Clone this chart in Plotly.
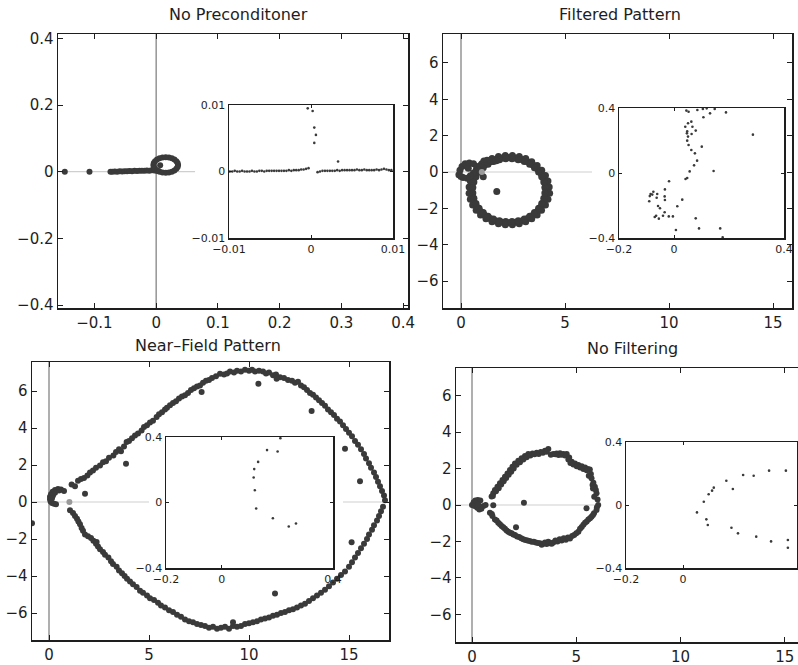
import plotly.graph_objects as go

# ---------------- data ----------------
# Panel 1: No Preconditioner (main)
p1_x = [-0.148, -0.108, -0.074, -0.071, -0.067, -0.063, -0.059, -0.055, -0.051, -0.047, -0.043, -0.039,
        -0.035, -0.031, -0.027, -0.023, -0.019, -0.015, -0.011, -0.007, -0.003, 0.001, 0.004,
        0.0355, 0.0348, 0.0328, 0.0296, 0.0255, 0.0207, 0.0155, 0.0103, 0.0055, 0.0014, -0.0018, -0.0038,
        -0.0045, -0.0038, -0.0018, 0.0014, 0.0055, 0.0103, 0.0155, 0.0207, 0.0255, 0.0296, 0.0328, 0.0348,
        0.0065]
p1_y = [0.0, 0.0, 0.0, 0.0, 0.0005, 0.0, 0.001, 0.0005, 0.0015, 0.001, 0.002, 0.0015,
        0.0025, 0.002, 0.003, 0.0025, 0.003, 0.0035, 0.003, 0.004, 0.0035, 0.003, 0.002,
        0.020, 0.026, 0.0315, 0.0363, 0.0399, 0.0422, 0.043, 0.0422, 0.0399, 0.0363, 0.0315, 0.026,
        0.020, 0.014, 0.0085, 0.0037, 0.0001, -0.0022, -0.003, -0.0022, 0.0001, 0.0037, 0.0085, 0.014,
        0.019]
# Panel 1 inset
p1i_x = [-0.0099, -0.0096, -0.0093, -0.0090, -0.0087, -0.0084, -0.0081, -0.0078, -0.0075, -0.0072, -0.0069,
         -0.0066, -0.0063, -0.0060, -0.0057, -0.0054, -0.0051, -0.0048, -0.0045, -0.0042, -0.0039, -0.0036,
         -0.0033, -0.0030, -0.0027, -0.0024, -0.0021, -0.0018, -0.0015, -0.0012, -0.0009, -0.0006,
         -0.0003, -0.0004, 0.0002, 0.0004, 0.0006, 0.0004, 0.0033,
         0.0008, 0.0011, 0.0014, 0.0017, 0.0020, 0.0023, 0.0026, 0.0029, 0.0032, 0.0035, 0.0038, 0.0041,
         0.0044, 0.0047, 0.0050, 0.0053, 0.0056, 0.0059, 0.0062, 0.0065, 0.0068, 0.0071, 0.0074, 0.0077,
         0.0080, 0.0083, 0.0086, 0.0089, 0.0092, 0.0095, 0.0098]
p1i_y = [0.0, 0.0, 0.0001, 0.0, 0.0, 0.0001, 0.0, 0.0, 0.0, 0.0001, 0.0,
         0.0, 0.0001, 0.0001, 0.0, 0.0001, 0.0001, 0.0001, 0.0001, 0.0001, 0.0001, 0.0001,
         0.0001, 0.0001, 0.0002, 0.0001, 0.0002, 0.0002, 0.0002, 0.0003, 0.0003, 0.0004,
         0.0005, 0.0095, 0.0091, 0.0066, 0.0055, 0.0043, 0.0015,
         -0.0001, 0.0, 0.0001, 0.0001, 0.0001, 0.0001, 0.0001, 0.0001, 0.0002, 0.0001, 0.0002, 0.0002,
         0.0002, 0.0002, 0.0002, 0.0002, 0.0003, 0.0002, 0.0002, 0.0003, 0.0002, 0.0002, 0.0002, 0.0002,
         0.0003, 0.0002, 0.0003, 0.0004, 0.0003, 0.0002, 0.0002]

# Panel 2: Filtered Pattern (main)
p2_x = [4.10, 4.07, 3.99, 3.86, 3.68, 3.46, 3.20, 2.92, 2.61, 2.30, 1.99, 1.68, 1.40, 1.14, 0.92, 0.74, 0.61, 0.53,
        0.50, 0.53, 0.61, 0.74, 0.92, 1.14, 1.40, 1.68, 1.99, 2.30, 2.61, 2.92, 3.20, 3.46, 3.68, 3.86, 3.99, 4.07,
        4.24, 4.18, 4.06, 3.88, 3.66, 3.40, 3.11, 2.80, 2.47, 2.13, 1.80, 1.49, 1.20, 0.94, 0.73, 0.56, 0.45, 0.39,
        0.39, 0.45, 0.56, 0.73, 0.94, 1.20, 1.49, 1.80, 2.13, 2.47, 2.80, 3.11, 3.40, 3.66, 3.87, 4.06, 4.18, 4.26,
        4.03, 3.98, 3.88, 3.73, 3.53, 3.30, 3.04, 2.75, 2.45, 2.15, 1.85, 1.56, 1.30, 1.07, 0.87, 0.72, 0.62, 0.57,
        0.57, 0.62, 0.72, 0.87, 1.07, 1.30, 1.56, 1.85, 2.15, 2.45, 2.75, 3.04, 3.30, 3.53, 3.73, 3.88, 3.98, 4.03,
        -0.10, -0.05, 0.05, 0.20, 0.40, 0.60, 0.75, 0.80, 0.60, 0.45, 0.30, 0.10, 0.00, 0.35, 0.90,
        1.00, 1.10, 1.25, 1.40, 1.55, 1.70, 1.07, 1.72]
p2_y = [-1.00, -0.69, -0.38, -0.10, 0.16, 0.38, 0.56, 0.69, 0.77, 0.80, 0.77, 0.69, 0.56, 0.38, 0.16, -0.10, -0.38, -0.69,
        -1.00, -1.31, -1.62, -1.90, -2.16, -2.38, -2.56, -2.69, -2.77, -2.80, -2.77, -2.69, -2.56, -2.38, -2.16, -1.90, -1.62, -1.31,
        -0.83, -0.50, -0.19, 0.10, 0.36, 0.57, 0.74, 0.85, 0.91, 0.91, 0.85, 0.74, 0.57, 0.36, 0.10, -0.19, -0.50, -0.83,
        -1.17, -1.50, -1.81, -2.10, -2.36, -2.57, -2.74, -2.85, -2.91, -2.91, -2.85, -2.74, -2.57, -2.36, -2.10, -1.81, -1.50, -1.17,
        -0.85, -0.55, -0.26, 0.00, 0.23, 0.43, 0.58, 0.68, 0.73, 0.73, 0.68, 0.58, 0.43, 0.23, 0.00, -0.26, -0.55, -0.85,
        -1.15, -1.45, -1.74, -2.00, -2.23, -2.43, -2.58, -2.68, -2.73, -2.73, -2.68, -2.58, -2.43, -2.23, -2.00, -1.74, -1.45, -1.15,
        -0.15, 0.10, 0.30, 0.45, 0.50, 0.45, 0.30, 0.10, -0.05, -0.20, -0.35, -0.30, -0.25, 0.20, 0.05,
        0.45, 0.60, 0.65, 0.62, 0.60, 0.62, -0.26, -1.08]
p2_grey_x = [1.0]
p2_grey_y = [0.0]
# Panel 2 inset
p2i_x = [0.045, 0.053, 0.085, 0.105, 0.119, 0.131, 0.148, 0.107, 0.189, 0.063, 0.051, 0.041, 0.067, 0.079,
         0.048, 0.047, 0.064, 0.051, 0.048, 0.287, 0.101, 0.053, 0.063, 0.076, 0.084, 0.073, 0.144, 0.057,
         0.048, 0.042, -0.018, -0.033, -0.075, -0.085, -0.079, -0.088, -0.061, -0.063, -0.090, -0.034,
         -0.033, 0.030, -0.058, -0.051, -0.034, -0.065, -0.070, -0.055, -0.040, -0.019, -0.004, 0.012,
         0.079, 0.007, 0.091, 0.168, 0.177]
p2i_y = [0.384, 0.377, 0.388, 0.394, 0.398, 0.367, 0.394, 0.343, 0.373, 0.316, 0.306, 0.285, 0.285, 0.261,
         0.256, 0.244, 0.240, 0.224, 0.199, 0.236, 0.162, 0.172, 0.142, 0.121, 0.076, 0.047, 0.012, 0.010,
         -0.031, -0.037, -0.051, -0.101, -0.115, -0.129, -0.133, -0.142, -0.129, -0.152, -0.174, -0.144,
         -0.166, -0.164, -0.203, -0.217, -0.242, -0.263, -0.271, -0.281, -0.263, -0.267, -0.267, -0.205,
         -0.279, -0.351, -0.341, -0.341, -0.396]

# Panel 3: Near-Field Pattern (main)
p3_x = [1.13, 1.30, 1.45, 1.60, 1.75, 1.92, 2.05, 2.20, 2.35, 2.55, 2.70, 2.85, 3.00, 3.22, 3.35, 3.50, 3.60, 3.75,
        3.88, 4.00, 4.15, 4.30, 4.45, 4.63, 4.75, 4.90, 5.05, 5.20, 5.38, 5.50, 5.65, 5.80, 5.90, 6.05, 6.20, 6.35,
        6.50, 6.65, 6.80, 6.95, 7.10, 7.25, 7.40, 7.55, 7.70, 7.85, 8.00, 8.15, 8.35, 8.55, 8.75, 8.90, 9.05, 9.25,
        9.40, 9.60, 9.80, 10.00, 10.15, 10.30, 10.50, 10.70, 10.85, 11.00, 11.20, 11.35, 11.55, 11.75, 11.95, 12.15,
        12.30, 12.45, 12.60, 12.75, 12.90, 13.05, 13.20, 13.35, 13.50, 13.65, 13.80, 13.95, 14.10, 14.25, 14.40,
        14.55, 14.70, 14.85, 15.00, 15.15, 15.30, 15.45, 15.60, 15.75, 15.85, 16.00, 16.10, 16.25, 16.35, 16.45,
        16.55, 16.65, 16.75, 16.80,
        1.05, 1.20, 1.30, 1.40, 1.47, 1.55, 1.63, 1.70, 1.80, 1.95, 2.10, 2.22, 2.35, 2.45, 2.55, 2.70, 2.80, 2.97,
        3.10, 3.20, 3.38, 3.50, 3.65, 3.78, 3.90, 4.05, 4.20, 4.38, 4.55, 4.70, 4.90, 5.05, 5.25, 5.45, 5.60, 5.80,
        6.00, 6.20, 6.40, 6.60, 6.80, 7.00, 7.20, 7.40, 7.60, 7.80, 8.00, 8.20, 8.40, 8.60, 8.80, 9.00, 9.20, 9.40,
        9.60, 9.80, 10.00, 10.20, 10.40, 10.60, 10.80, 11.00, 11.20, 11.40, 11.60, 11.80, 12.00, 12.20, 12.40, 12.60,
        12.80, 13.00, 13.20, 13.40, 13.60, 13.80, 14.00, 14.20, 14.40, 14.60, 14.80, 15.00, 15.15, 15.30, 15.45,
        15.60, 15.75, 15.90, 16.00, 16.15, 16.25, 16.40, 16.50, 16.60, 16.70,
        14.80, 15.55, 15.13, 11.30, 13.13, 11.38, 3.85, 1.80, 2.38, 7.63, 10.47, 9.2, -0.85,
        0.75, 0.60, 0.45, 0.30, 0.18, 0.10, 0.05, 0.05, 0.08, 0.15, 0.25, 0.35, 0.20, 0.30, 0.15, 0.50]
p3_y = [0.95, 0.85, 1.15, 1.25, 1.30, 1.44, 1.60, 1.70, 1.85, 1.98, 2.15, 2.20, 2.40, 2.52, 2.70, 2.85, 2.75, 3.00,
        3.24, 3.30, 3.45, 3.60, 3.70, 3.87, 4.05, 4.15, 4.30, 4.40, 4.60, 4.75, 4.85, 5.00, 5.10, 5.23, 5.35, 5.45,
        5.60, 5.70, 5.77, 5.90, 6.05, 6.15, 6.25, 6.30, 6.45, 6.55, 6.60, 6.70, 6.80, 6.94, 6.90, 6.95, 7.05, 7.00,
        7.10, 7.05, 7.15, 7.10, 7.15, 7.05, 7.10, 7.05, 6.95, 7.00, 6.85, 6.90, 6.75, 6.70, 6.60, 6.55,
        6.45, 6.50, 6.30, 6.20, 6.05, 5.90, 5.80, 5.65, 5.50, 5.35, 5.20, 5.00, 4.85, 4.70, 4.50,
        4.35, 4.15, 3.95, 3.75, 3.55, 3.30, 3.10, 2.85, 2.60, 2.35, 2.10, 1.85, 1.60, 1.35, 1.10,
        0.85, 0.60, 0.35, 0.10,
        -0.45, -0.60, -0.75, -0.90, -1.05, -1.20, -1.40, -1.55, -1.75, -1.85, -1.95, -2.10, -2.25, -2.40, -2.55, -2.70, -2.85, -3.00,
        -3.20, -3.35, -3.50, -3.70, -3.85, -4.00, -4.15, -4.30, -4.45, -4.60, -4.80, -4.90, -5.05, -5.20, -5.30, -5.45, -5.60, -5.70,
        -5.85, -5.95, -6.10, -6.20, -6.35, -6.45, -6.50, -6.60, -6.65, -6.70, -6.80, -6.75, -6.85, -6.80, -6.75, -6.85, -6.70, -6.75,
        -6.70, -6.60, -6.55, -6.50, -6.45, -6.35, -6.30, -6.25, -6.15, -6.10, -6.00, -5.95, -5.85, -5.80, -5.70, -5.60,
        -5.50, -5.35, -5.20, -5.05, -4.90, -4.75, -4.55, -4.35, -4.15, -3.95, -3.75, -3.50, -3.25, -3.00, -2.75,
        -2.50, -2.25, -2.00, -1.75, -1.50, -1.25, -1.00, -0.75, -0.50, -0.25,
        2.88, 1.12, -2.18, -4.95, 4.92, 6.67, 2.07, 0.45, -2.16, 5.95, 6.40, -6.5, -1.15,
        0.60, 0.68, 0.70, 0.65, 0.55, 0.42, 0.28, 0.15, 0.03, -0.05, -0.10, -0.12, 0.35, 0.50, 0.20, 0.62]
p3_grey_x = [1.02]
p3_grey_y = [0.0]
# Panel 3 inset
p3i_x = [0.211, 0.163, 0.201, 0.131, 0.117, 0.115, 0.119, 0.124, 0.184, 0.241, 0.267]
p3i_y = [0.393, 0.320, 0.311, 0.248, 0.204, 0.153, 0.075, -0.037, -0.096, -0.147, -0.128]

# Panel 4: No Filtering (main)
p4_x = [0.94, 1.02, 1.10, 1.22, 1.34, 1.46, 1.58, 1.70, 1.82, 1.94, 2.06, 2.22, 2.38, 2.54, 2.70, 2.90, 3.10,
        3.30, 3.50, 3.66, 3.90, 4.06, 4.22, 4.38, 4.54, 4.66, 4.78, 4.94, 5.10, 5.26, 5.42, 5.55, 5.65, 5.70,
        5.73, 5.82, 5.89, 5.94, 5.97, 6.02, 6.05, 5.99,
        1.00, 1.15, 1.28, 1.40, 1.52, 1.64, 1.76, 1.88, 2.00, 2.14, 2.30, 2.46, 2.62, 2.80, 3.00, 3.20, 3.40, 3.58,
        3.78, 4.00, 4.15, 4.30, 4.46, 4.62, 4.72, 4.86, 5.02, 5.18, 5.34, 5.50, 5.60, 5.78, 5.86, 5.80,
        0.86, 0.98, 1.10, 1.26, 1.42, 1.58, 1.74, 1.90, 2.06, 2.26, 2.46, 2.66, 2.86, 3.06, 3.26, 3.42, 3.58, 3.74,
        3.90, 4.10, 4.30, 4.50, 4.70, 4.90, 5.10, 5.26, 5.42, 5.58, 5.73, 5.85, 5.97,
        0.95, 1.18, 1.34, 1.50, 1.66, 1.82, 1.98, 2.16, 2.36, 2.56, 2.76, 2.96, 3.16, 3.34, 3.50, 3.66, 3.82, 4.00,
        4.20, 4.40, 4.60, 4.80, 5.00, 5.18, 5.34, 5.50, 5.66, 5.80,
        2.49, 2.11, 5.49,
        0.00, 0.08, 0.16, 0.28, 0.40, 0.20, 0.12, 0.25, 0.35, 0.45, 0.55, 0.65, 0.30, 1.02]
p4_y = [0.46, 0.64, 0.82, 1.00, 1.19, 1.37, 1.55, 1.73, 1.92, 2.10, 2.28, 2.42, 2.56, 2.68, 2.79, 2.82, 2.87,
        2.90, 2.98, 3.07, 2.79, 2.82, 2.83, 2.80, 2.79, 2.60, 2.37, 2.28, 2.19, 2.12, 2.06, 1.98, 1.95, 1.70,
        1.46, 1.22, 1.00, 0.82, 0.64, 0.30, 0.00, -0.12,
        0.50, 0.75, 0.92, 1.12, 1.30, 1.48, 1.66, 1.82, 2.00, 2.20, 2.35, 2.50, 2.62, 2.72, 2.78, 2.80, 2.86, 2.92,
        2.75, 2.78, 2.74, 2.76, 2.72, 2.50, 2.30, 2.22, 2.12, 2.05, 1.98, 1.90, 1.60, 1.10, 0.45, 0.90,
        -0.42, -0.60, -0.79, -0.97, -1.15, -1.30, -1.46, -1.55, -1.64, -1.76, -1.88, -1.95, -2.01, -2.06, -2.10, -2.12, -2.14, -2.10,
        -2.06, -2.00, -1.95, -1.90, -1.83, -1.65, -1.46, -1.20, -0.97, -0.80, -0.64, -0.45, -0.27,
        -0.50, -0.85, -1.05, -1.22, -1.40, -1.52, -1.62, -1.72, -1.82, -1.92, -1.98, -2.02, -2.08, -2.18, -2.05, -2.02, -2.12, -1.95,
        -1.88, -1.82, -1.78, -1.70, -1.55, -1.30, -1.08, -0.90, -0.72, -0.55,
        0.13, -1.22, -0.18,
        0.00, 0.15, 0.25, 0.28, 0.25, 0.10, -0.05, -0.15, -0.25, -0.20, -0.05, 0.00, 0.02, -0.02]
# Panel 4 inset
p4i_x = [0.049, 0.073, 0.090, 0.102, 0.108, 0.152, 0.175, 0.211, 0.248, 0.302, 0.361, 0.082, 0.087, 0.170,
         0.193, 0.257, 0.309, 0.368, 0.368]
p4i_y = [-0.047, 0.021, 0.068, 0.091, 0.110, 0.154, 0.102, 0.190, 0.186, 0.218, 0.218, -0.091, -0.127, -0.144,
         -0.180, -0.201, -0.231, -0.222, -0.271]

# tick definitions
p1_xticks = [-0.1, 0, 0.1, 0.2, 0.3, 0.4]
p1_xticktext = ["\u22120.1", "0", "0.1", "0.2", "0.3", "0.4"]
p1_yticks = [-0.4, -0.2, 0, 0.2, 0.4]
p1_yticktext = ["\u22120.4", "\u22120.2", "0", "0.2", "0.4"]
p1i_ticks = [-0.01, 0, 0.01]
p1i_ticktext = ["\u22120.01", "0", "0.01"]
big_xticks = [0, 5, 10, 15]
big_yticks = [-6, -4, -2, 0, 2, 4, 6]
big_yticktext = ["\u22126", "\u22124", "\u22122", "0", "2", "4", "6"]
in_xticks = [-0.2, 0, 0.4]
in_xticktext = ["\u22120.2", "0", "0.4"]
in_yticks = [-0.4, 0, 0.4]
in_yticktext = ["\u22120.4", "0", "0.4"]

titles = ["No Preconditoner", "Filtered Pattern", "Near\u2013Field Pattern", "No Filtering"]

# ---------------- figure ----------------
W, H = 798, 665
DOT = "#3a3a3a"
FONT = "DejaVu Sans"
AX = "#1e1e1e"

def px_dom_x(a, b):
    return [max(0.0, a / W), min(1.0, b / W)]

def px_dom_y(top, bottom):
    return [max(0.0, 1 - bottom / H), min(1.0, 1 - top / H)]

fig = go.Figure()

def add_pts(x, y, xa, ya, size, color=DOT):
    fig.add_trace(go.Scatter(x=x, y=y, mode="markers", xaxis=xa, yaxis=ya,
                             marker=dict(size=size, color=color, line=dict(width=0)),
                             showlegend=False, hoverinfo="skip"))

add_pts(p1_x, p1_y, "x", "y", 6)
add_pts(p1i_x, p1i_y, "x2", "y2", 2.6)
add_pts(p2_x, p2_y, "x3", "y3", 7)
add_pts(p2_grey_x, p2_grey_y, "x3", "y3", 6, "#9a9a9a")
add_pts(p2i_x, p2i_y, "x4", "y4", 2.6)
add_pts(p3_x, p3_y, "x5", "y5", 6)
add_pts(p3_grey_x, p3_grey_y, "x5", "y5", 6, "#9a9a9a")
add_pts(p3i_x, p3i_y, "x6", "y6", 2.6)
add_pts(p4_x, p4_y, "x7", "y7", 6)
add_pts(p4i_x, p4i_y, "x8", "y8", 2.6)

def axis(dom, rng, tv, tt, anchor, fsize, ticklen, mirror="ticks", lw=1.5):
    return dict(domain=dom, range=rng, tickvals=tv, ticktext=tt, anchor=anchor,
                showline=True, linecolor=AX, linewidth=lw, mirror=mirror,
                ticks="inside", ticklen=ticklen, tickwidth=1, tickcolor=AX,
                showgrid=False, zeroline=False, automargin=False, fixedrange=True,
                tickfont=dict(family=FONT, size=fsize, color="#1e1e1e"))

# main panels (window pixel boxes: left, right, top, bottom)
P1 = (58, 408, 34, 308, [-0.159, 0.408], [-0.409, 0.413])
P2 = (443, 792, 34, 308, [-0.865, 15.91], [-7.485, 7.595])
P3 = (32, 389, 362, 640, [-0.85, 17.0], [-7.46, 7.57])
P4 = (456, 798, 368, 642, [-0.767, 15.63], [-7.51, 7.51])
# insets
I1 = (229, 393, 105, 238, [-0.01, 0.01], [-0.01, 0.01])
I2 = (619, 784, 108, 238, [-0.2, 0.4], [-0.4, 0.4])
I3 = (166, 333, 437, 568, [-0.2, 0.4], [-0.4, 0.4])
I4 = (626, 797, 442, 568, [-0.2, 0.4], [-0.4, 0.4])

lay = {}
mains = [(P1, p1_xticks, p1_xticktext, p1_yticks, p1_yticktext),
         (P2, big_xticks, None, big_yticks, big_yticktext),
         (P3, big_xticks, None, big_yticks, big_yticktext),
         (P4, big_xticks, None, big_yticks, big_yticktext)]
insets = [(I1, p1i_ticks, p1i_ticktext, p1i_ticks, p1i_ticktext),
          (I2, in_xticks, in_xticktext, in_yticks, in_yticktext),
          (I3, in_xticks, in_xticktext, in_yticks, in_yticktext),
          (I4, in_xticks, in_xticktext, in_yticks, in_yticktext)]

for i in range(4):
    P, xtv, xtt, ytv, ytt = mains[i]
    I, ixtv, ixtt, iytv, iytt = insets[i]
    n_main = 2 * i + 1
    n_in = 2 * i + 2
    sx = "" if n_main == 1 else str(n_main)
    xt = xtt if xtt is not None else [str(v) for v in xtv]
    lay["xaxis" + sx] = axis(px_dom_x(P[0], P[1]), P[4], xtv, xt, "y" + sx, 15, 5)
    ymirror = False if i == 3 else "ticks"
    lay["yaxis" + sx] = axis(px_dom_y(P[2], P[3]), P[5], ytv, ytt, "x" + sx, 15, 5, mirror=ymirror)
    si = str(n_in)
    lay["xaxis" + si] = axis(px_dom_x(I[0], I[1]), I[4], ixtv, ixtt, "y" + si, 11, 3)
    lay["yaxis" + si] = axis(px_dom_y(I[2], I[3]), I[5], iytv, iytt, "x" + si, 11, 3)

shapes = []
LIGHT = "#cfcfcf"
MID = "#7a7a7a"
# horizontal zero-reference segments of the main panels (hidden behind each inset)
zero_segments = [("x", "y", P1[4][0], 0.063), ("x3", "y3", P2[4][0], 6.3),
                 ("x5", "y5", P3[4][0], 5.0), ("x5", "y5", 14.7, P3[4][1]),
                 ("x7", "y7", P4[4][0], 6.14)]
for xa, ya, a, b in zero_segments:
    shapes.append(dict(type="line", xref=xa, yref=ya, x0=a, x1=b, y0=0, y1=0,
                       line=dict(color=LIGHT, width=1.2), layer="below"))
for n in range(1, 9):
    s = "" if n == 1 else str(n)
    shapes.append(dict(type="line", xref="x" + s, yref="y" + s + " domain", x0=0, x1=0, y0=0, y1=1,
                       line=dict(color=MID, width=1.2), layer="below"))
    if n % 2 == 0:
        shapes.append(dict(type="line", xref="x" + s + " domain", yref="y" + s, x0=0, x1=1, y0=0, y1=0,
                           line=dict(color=LIGHT, width=1.2), layer="below"))

title_pos = [(238, 15), (620, 15), (208, 345), (632, 348)]
annotations = []
for t, (tx, ty) in zip(titles, title_pos):
    annotations.append(dict(text=t, x=tx / W, y=1 - ty / H, xref="paper", yref="paper",
                            xanchor="center", yanchor="middle", showarrow=False,
                            font=dict(family=FONT, size=16, color="#1e1e1e")))

fig.update_layout(width=W, height=H, autosize=False,
                  margin=dict(l=0, r=0, t=0, b=0, pad=0),
                  paper_bgcolor="white", plot_bgcolor="white", hovermode=False,
                  shapes=shapes, annotations=annotations, **lay)

# remove the browser's default page margin so the figure fills the window exactly
fig.write_html("out.html", config={"displayModeBar": False, "staticPlot": True},
               post_script="document.body.style.margin = '0px';")
